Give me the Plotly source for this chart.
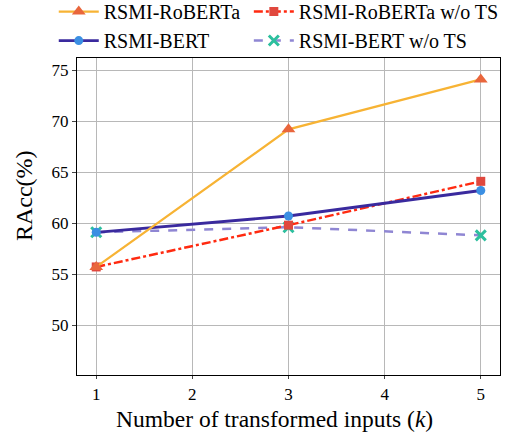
import plotly.graph_objects as go

k = [1, 3, 5]
roberta = [55.7, 69.2, 74.1]
roberta_wo = [55.7, 59.8, 64.1]
bert = [59.1, 60.7, 63.2]
bert_wo = [59.1, 59.6, 58.8]

font = "Liberation Serif"
fig = go.Figure()

fig.add_trace(go.Scatter(x=k, y=bert_wo, name="RSMI-BERT w/o TS", mode="lines+markers",
    line=dict(color="#8f86d3", width=2.5, dash="dash"),
    marker=dict(symbol="x-thin", size=10, line=dict(color="#2dbf9e", width=3), color="#2dbf9e"),
    legend="legend2", legendrank=2))
fig.add_trace(go.Scatter(x=k, y=roberta_wo, name="RSMI-RoBERTa w/o TS", mode="lines+markers",
    line=dict(color="#ff2a10", width=2.5, dash="dashdot"),
    marker=dict(symbol="square", size=9, color="#e0483e"),
    legend="legend2", legendrank=1))
fig.add_trace(go.Scatter(x=k, y=bert, name="RSMI-BERT", mode="lines+markers",
    line=dict(color="#3a2a9e", width=2.8),
    marker=dict(symbol="circle", size=9, color="#3b8fe3"),
    legend="legend", legendrank=2))
fig.add_trace(go.Scatter(x=k, y=roberta, name="RSMI-RoBERTa", mode="lines+markers",
    line=dict(color="#f7b334", width=2.2),
    marker=dict(symbol="triangle-up", size=12, color="#e9663c"),
    legend="legend", legendrank=1))

leg_common = dict(orientation="v", xanchor="left", yanchor="top",
                  xref="container", yref="paper", y=1.208,
                  font=dict(size=20, family=font), traceorder="normal",
                  itemwidth=40, tracegroupgap=0, bgcolor="rgba(0,0,0,0)")

fig.update_layout(
    width=512, height=432,
    margin=dict(l=77, r=12, t=58, b=57, autoexpand=False),
    paper_bgcolor="white", plot_bgcolor="white",
    font=dict(family=font, color="black", size=17),
    showlegend=True,
    legend=dict(x=0.105, **leg_common),
    legend2=dict(x=0.486, **leg_common),
    xaxis=dict(range=[0.8, 5.2], tickvals=[1, 2, 3, 4, 5], showgrid=True,
               gridcolor="#b8b8b8", gridwidth=1, showline=True, linecolor="black",
               linewidth=1.2, mirror=True, ticks="outside", ticklen=3, zeroline=False,
               tickfont=dict(size=17, family=font)),
    yaxis=dict(range=[45.1, 76.2], tickvals=[50, 55, 60, 65, 70, 75], showgrid=True,
               gridcolor="#b8b8b8", gridwidth=1, showline=True, linecolor="black",
               linewidth=1.2, mirror=True, ticks="outside", ticklen=4, zeroline=False,
               tickfont=dict(size=17, family=font)),
    annotations=[
        dict(text="RAcc(%)", textangle=-90, xref="paper", yref="paper",
             x=-0.125, y=0.565, xanchor="center", yanchor="middle",
             showarrow=False, font=dict(size=24, family=font, color="black")),
        dict(text="Number of transformed inputs (<i>k</i>)", xref="paper", yref="paper",
             x=0.468, y=-0.138, xanchor="center", yanchor="middle",
             showarrow=False, font=dict(size=23.5, family=font, color="black")),
    ],
)

fig.write_html("out.html")
